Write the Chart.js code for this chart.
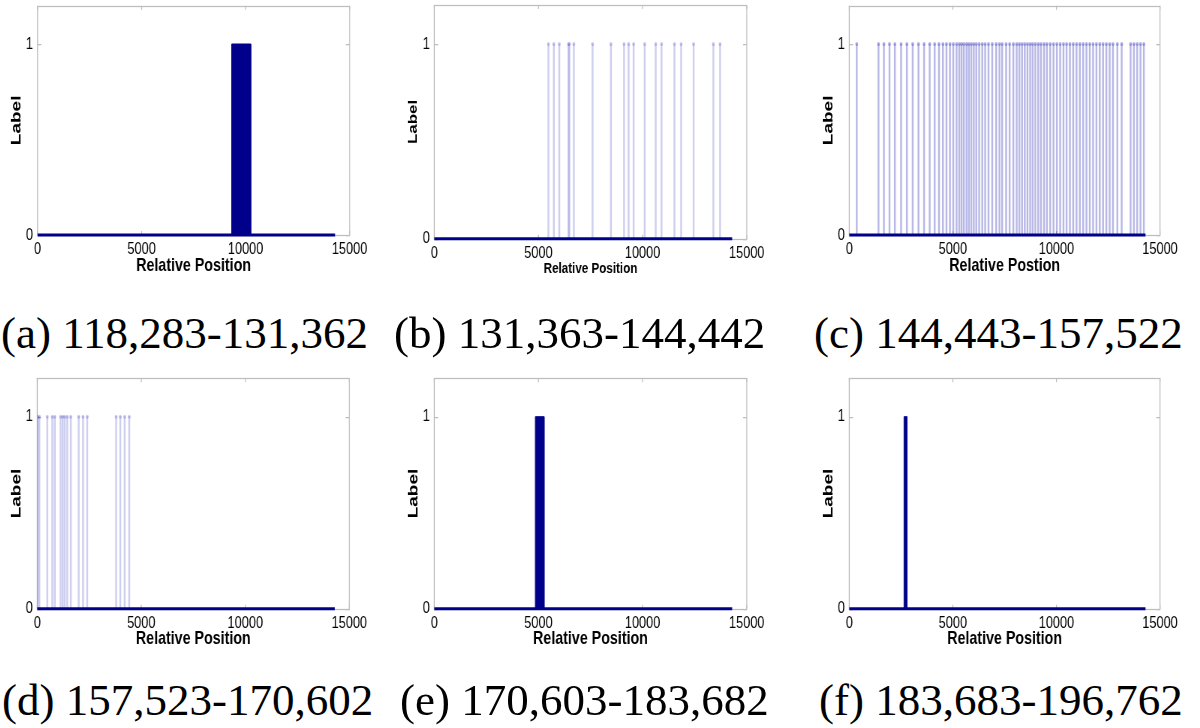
<!DOCTYPE html>
<html><head><meta charset="utf-8">
<script src="https://cdn.jsdelivr.net/npm/chart.js@4.4.0/dist/chart.umd.min.js"></script>
<style>
html,body{margin:0;padding:0;background:#fff;width:1200px;height:728px;overflow:hidden;position:relative}
canvas{position:absolute;transform-origin:0 0}
.cap{position:absolute;font-family:"Liberation Serif","Times New Roman",serif;font-size:45px;line-height:45px;white-space:nowrap;color:#000}
</style></head><body>
<script>
// ---------- data ----------
const xTickValues = [0, 5000, 10000, 15000];
const yTickValues = [0, 1];
const sequenceEnd = 14300;

const stemsA = [];
const blockA = [9330, 10250];

const stemsB = [5480, 5740, 6000, 6440, 6490, 6700, 7600, 8480, 9110, 9330, 9570, 10100, 10630, 10910, 11530, 11850, 12450, 13400, 13720];
const blockB = null;

const stemsC = [360, 1410, 1670, 1940, 2200, 2500, 2780, 3060, 3340, 3610, 3880, 4120, 4330, 4520, 4690, 4860, 5020, 5180, 5310, 5420, 5530, 5660, 5770, 5890, 6010, 6130, 6270, 6420, 6560, 6720, 6900, 7090, 7250, 7380, 7570, 7740, 7920, 8080, 8210, 8340, 8470, 8600, 8730, 8850, 8980, 9120, 9250, 9400, 9540, 9700, 9860, 10020, 10180, 10340, 10490, 10650, 10810, 10970, 11130, 11290, 11450, 11610, 11770, 11930, 12090, 12250, 12410, 12570, 12730, 12940, 13150, 13580, 13740, 13900, 14060, 14220];
const blockC = null;

const stemsD = [30, 100, 480, 720, 840, 1120, 1220, 1320, 1440, 1610, 1990, 2200, 2400, 3790, 3990, 4200, 4420];
const blockD = null;

const stemsE = [];
const blockE = [4850, 5270];

const stemsF = [];
const blockF = [2640, 2780];

const captions = ['(a) 118,283-131,362', '(b) 131,363-144,442', '(c) 144,443-157,522',
                  '(d) 157,523-170,602', '(e) 170,603-183,682', '(f) 183,683-196,762'];
const xTitles = ['Relative Position', 'Relative Position', 'Relative Postion',
                 'Relative Position', 'Relative Position', 'Relative Position'];
const yTitle = 'Label';

// ---------- layout / style ----------
const NAVY = '#00008B';
const SANS = '"Liberation Sans", Arial, Helvetica, sans-serif';
const LIGHT = 'rgba(50,50,190,0.24)';
const MID = 'rgba(40,40,180,0.33)';
const SX = 0.75;   // horizontal squeeze of the original figure

const panels = [
  {stems: stemsA, block: blockA, caption: captions[0], xTitle: xTitles[0], area: [37.6, 5.8, 349.6, 235],     capPos: [1, 311],   stemColor: LIGHT, xts: 19,   yts: 19},
  {stems: stemsB, block: blockB, caption: captions[1], xTitle: xTitles[1], area: [434.3, 5.1, 746.7, 238.7],  capPos: [394, 311], stemColor: LIGHT, xts: 15.5, yts: 17},
  {stems: stemsC, block: blockC, caption: captions[2], xTitle: xTitles[2], area: [849.3, 5.8, 1160, 235],     capPos: [814, 311], stemColor: MID,   xts: 19,   yts: 19},
  {stems: stemsD, block: blockD, caption: captions[3], xTitle: xTitles[3], area: [37.3, 378.3, 349.3, 608.7], capPos: [2, 678],   stemColor: LIGHT, xts: 19,   yts: 19},
  {stems: stemsE, block: blockE, caption: captions[4], xTitle: xTitles[4], area: [434.3, 378.3, 746.7, 608.7],capPos: [400, 678], stemColor: LIGHT, xts: 19,   yts: 19},
  {stems: stemsF, block: blockF, caption: captions[5], xTitle: xTitles[5], area: [849.3, 378.3, 1160, 608.7], capPos: [819, 678], stemColor: LIGHT, xts: 19,   yts: 19}
];

const boxPlugin = {
  id: 'matlabBox',
  beforeDatasetsDraw(chart) {
    const {ctx, chartArea: a, scales: {x, y}} = chart;
    ctx.save();
    ctx.strokeStyle = '#bdbdbd';
    ctx.lineWidth = 1.25;
    ctx.strokeRect(a.left, Math.round(a.top) + 0.5, a.right - a.left, Math.round(a.bottom) - Math.round(a.top));
    ctx.beginPath();
    x.ticks.forEach(t => {
      const px = x.getPixelForValue(t.value);
      ctx.moveTo(px, a.bottom); ctx.lineTo(px, a.bottom - 4);
      ctx.moveTo(px, a.top); ctx.lineTo(px, a.top + 4);
    });
    y.ticks.forEach(t => {
      const py = Math.round(y.getPixelForValue(t.value)) + 0.5;
      ctx.moveTo(a.left, py); ctx.lineTo(a.left + 5, py);
      ctx.moveTo(a.right, py); ctx.lineTo(a.right - 5, py);
    });
    ctx.stroke();
    ctx.restore();
  }
};

function makeChart(p) {
  const [L, T, R, B] = p.area;
  const cl = Math.floor(L) - 45, ct = Math.floor(T) - 20;
  const cwI = Math.ceil((R + 45 - cl) / SX);          // internal canvas width
  const ch = Math.ceil(B) + 60 - ct;
  const canvas = document.createElement('canvas');
  canvas.width = cwI; canvas.height = ch;
  canvas.style.left = cl + 'px'; canvas.style.top = ct + 'px';
  canvas.style.width = cwI + 'px'; canvas.style.height = ch + 'px';
  canvas.style.transform = 'scaleX(' + SX + ')';
  document.body.appendChild(canvas);
  const yAxisW = (L - cl) / SX;
  const padRight = cwI - (R - cl) / SX;
  const padTop = T - ct;
  const xAxisH = ch - (B - ct);

  const datasets = [];
  datasets.push({type: 'line', data: [{x: 0, y: 0}, {x: sequenceEnd, y: 0}], borderColor: NAVY, borderWidth: 3,
                 pointRadius: 0, clip: false, order: 0, fill: false});
  if (p.stems.length) {
    const pts = p.stems.map(v => ({x: v, y: 1}));
    datasets.push({type: 'bar', data: pts, backgroundColor: p.stemColor, borderWidth: 0, barThickness: 1.8, grouped: false, order: 3});
    datasets.push({type: 'scatter', data: pts, pointRadius: 2, pointBackgroundColor: p.stemColor, pointBorderWidth: 0, order: 2});
  }
  if (p.block) {
    const [s, e] = p.block;
    datasets.push({type: 'line', data: [{x: s, y: 0}, {x: s, y: 1}, {x: e, y: 1}, {x: e, y: 0}],
                   borderColor: NAVY, backgroundColor: NAVY, borderWidth: 1, fill: 'origin', pointRadius: 0, tension: 0, order: 1});
  }

  new Chart(canvas, {
    type: 'bar',
    data: {datasets},
    plugins: [boxPlugin],
    options: {
      responsive: false, animation: false, devicePixelRatio: 1,
      layout: {padding: {left: 0, top: padTop, right: padRight, bottom: 0}},
      plugins: {legend: {display: false}, tooltip: {enabled: false}},
      scales: {
        x: {
          type: 'linear', min: 0, max: 15000, offset: false,
          grid: {display: false, drawTicks: false}, border: {display: false},
          afterBuildTicks: s => { s.ticks = xTickValues.map(v => ({value: v})); },
          afterFit: s => { s.height = xAxisH; },
          ticks: {autoSkip: false, maxRotation: 0, padding: 6, color: '#000',
                  font: {family: SANS, size: 17, lineHeight: 1}, callback: v => String(v)},
          title: {display: true, text: p.xTitle, color: '#000',
                  font: {family: SANS, size: p.xts, weight: 'bold', lineHeight: 1},
                  padding: {top: 0, bottom: xAxisH - 30.5 - p.xts / 2}}
        },
        y: {
          type: 'linear', min: 0, max: 1.2,
          grid: {display: false, drawTicks: false}, border: {display: false},
          afterBuildTicks: s => { s.ticks = yTickValues.map(v => ({value: v})); },
          afterFit: s => { s.width = yAxisW; },
          ticks: {padding: 6, color: '#000', font: {family: SANS, size: 17, lineHeight: 1}, callback: v => String(v)},
          title: {display: true, text: yTitle, color: '#000',
                  font: {family: SANS, size: p.yts, weight: 'bold', lineHeight: 1},
                  padding: {top: yAxisW - 21 / SX - p.yts / 2, bottom: 0}}
        }
      }
    }
  });

  const cap = document.createElement('div');
  cap.className = 'cap';
  cap.textContent = p.caption;
  cap.style.left = p.capPos[0] + 'px';
  cap.style.top = p.capPos[1] + 'px';
  document.body.appendChild(cap);
}

panels.forEach(makeChart);
</script>
</body></html>
